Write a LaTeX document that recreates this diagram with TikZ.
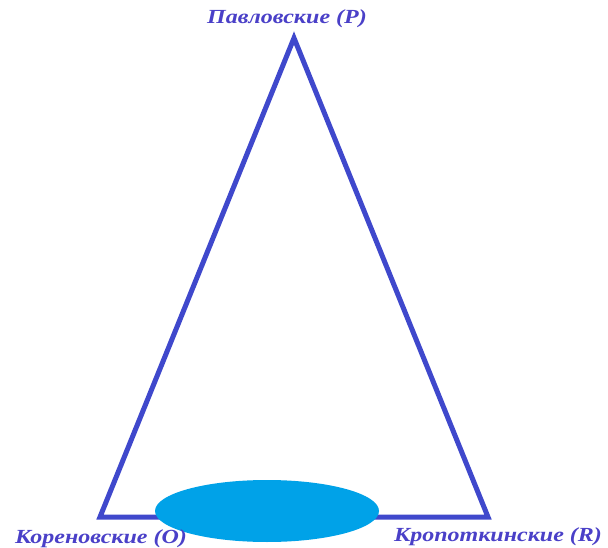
\documentclass[tikz,border=0pt]{standalone}
\usepackage{fontspec}
\setmainfont{Liberation Serif}
\definecolor{linecol}{HTML}{3F48CC}
\definecolor{textcol}{HTML}{4A40C8}
\definecolor{fillcol}{HTML}{00A2E8}
\begin{document}
\begin{tikzpicture}[x=1pt,y=-1pt,
  lbl/.style={text=textcol,font=\fontsize{20}{24}\selectfont\bfseries\itshape,inner sep=0pt,xscale=1.2},
  edge/.style={draw=linecol,line width=5pt,line join=miter}]
\useasboundingbox[fill=white] (0,0) rectangle (608,548);
\coordinate (P) at (294,38);
\coordinate (O) at (100,517);
\coordinate (R) at (488,517);
\draw[edge] (P) -- (R) -- (O) -- cycle;
\fill[fillcol] (267,511) ellipse [x radius=112, y radius=31];
\node[lbl] (lp) at (287,19) {Павловские (P)};
\node[lbl] (lo) at (101,539) {Кореновские (O)};
\node[lbl] (lr) at (498,537) {Кропоткинские (R)};
\end{tikzpicture}
\end{document}
